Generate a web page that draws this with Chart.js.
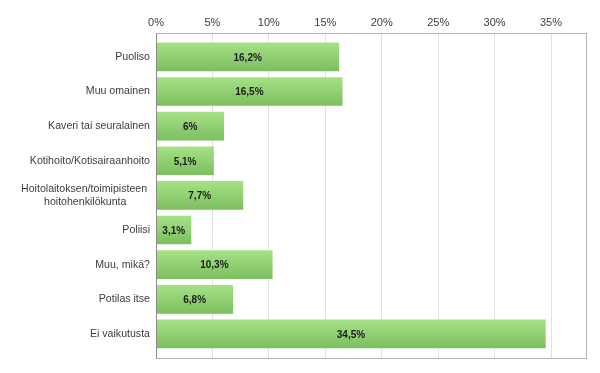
<!DOCTYPE html>
<html lang="fi">
<head>
  <meta charset="UTF-8">
  <title>Vaikuttajat</title>
  <script src="https://cdn.jsdelivr.net/npm/chart.js"></script>
  <style>
    html, body { margin: 0; padding: 0; background: #fff; }
    #wrap { width: 600px; height: 373px; }
  </style>
</head>
<body>
  <div id="wrap"><canvas id="chart" width="600" height="373"></canvas></div>
  <script>
    // categories (top to bottom) and percentages
    const categories = [
      'Puoliso',
      'Muu omainen',
      'Kaveri tai seuralainen',
      'Kotihoito/Kotisairaanhoito',
      ['Hoitolaitoksen/toimipisteen ', 'hoitohenkilökunta        '],
      'Poliisi',
      'Muu, mikä?',
      'Potilas itse',
      'Ei vaikutusta'
    ];
    const values = [16.2, 16.5, 6, 5.1, 7.7, 3.1, 10.3, 6.8, 34.5];
    const xTicks = [0, 5, 10, 15, 20, 25, 30, 35];

    const FONT = '"Liberation Sans", Arial, sans-serif';

    // green top-to-bottom gradient on every bar
    const gradientPlugin = {
      id: 'barGradient',
      beforeDatasetsDraw(chart) {
        const c = chart.ctx;
        chart.getDatasetMeta(0).data.forEach(bar => {
          const h = bar.height / 2;
          const g = c.createLinearGradient(0, bar.y - h, 0, bar.y + h);
          g.addColorStop(0, '#a6e186');
          g.addColorStop(1, '#7cbf60');
          bar.options = Object.assign({}, bar.options, { backgroundColor: g });
        });
      }
    };

    // gray frame round the plot area
    const framePlugin = {
      id: 'frame',
      afterDraw(chart) {
        const a = chart.chartArea, c = chart.ctx;
        c.save();
        c.strokeStyle = '#b4b4b4';
        c.lineWidth = 1;
        c.strokeRect(Math.round(a.left) + 0.5, Math.round(a.top) + 0.5,
          Math.round(a.right - a.left), Math.round(a.bottom - a.top));
        c.strokeStyle = '#8a8a8a';
        c.beginPath();
        c.moveTo(Math.round(a.left) + 0.5, a.top);
        c.lineTo(Math.round(a.left) + 0.5, a.bottom + 1);
        c.stroke();
        c.restore();
      }
    };

    // value text in the middle of each bar
    const valuePlugin = {
      id: 'values',
      afterDatasetsDraw(chart) {
        const c = chart.ctx;
        const meta = chart.getDatasetMeta(0);
        c.save();
        c.font = 'bold 10px ' + FONT;
        c.fillStyle = '#1c1c1c';
        c.textAlign = 'center';
        c.textBaseline = 'middle';
        meta.data.forEach((bar, i) => {
          const txt = String(values[i]).replace('.', ',') + '%';
          c.fillText(txt, (bar.x + bar.base) / 2, bar.y + 1);
        });
        c.restore();
      }
    };

    const ctx = document.getElementById('chart').getContext('2d');
    new Chart(ctx, {
      type: 'bar',
      data: {
        datasets: [{
          data: values.map((v, i) => ({ x: v, y: i })),
          backgroundColor: '#8fd070',
          borderWidth: 0,
          barThickness: 28
        }]
      },
      options: {
        indexAxis: 'y',
        responsive: false,
        animation: false,
        events: [],
        layout: { padding: { top: 0, right: 14, bottom: 15, left: 0 } },
        plugins: {
          legend: { display: false },
          tooltip: { enabled: false }
        },
        scales: {
          x: {
            position: 'top',
            min: 0,
            max: 38.1,
            afterBuildTicks: (s) => { s.ticks = xTicks.map(v => ({ value: v })); },
            afterFit: (s) => { s.height = 33; },
            grid: { color: '#e2e2e2', drawTicks: false },
            border: { display: false },
            ticks: {
              padding: 3,
              color: '#3c3c3c',
              font: { family: FONT, size: 11 },
              callback: (v) => v + '%'
            }
          },
          y: {
            type: 'linear',
            reverse: true,
            offset: false,
            min: -0.69,
            max: 8.695,
            afterBuildTicks: (s) => { s.ticks = categories.map((_, i) => ({ value: i })); },
            afterFit: (s) => { s.width = 156; },
            grid: { display: false, drawTicks: false, offset: false },
            border: { display: false },
            ticks: {
              padding: 6,
              color: '#3c3c3c',
              font: { family: FONT, size: 10.6, lineHeight: 1.2 },
              callback: (v) => categories[v]
            }
          }
        }
      },
      plugins: [gradientPlugin, framePlugin, valuePlugin]
    });
  </script>
</body>
</html>
